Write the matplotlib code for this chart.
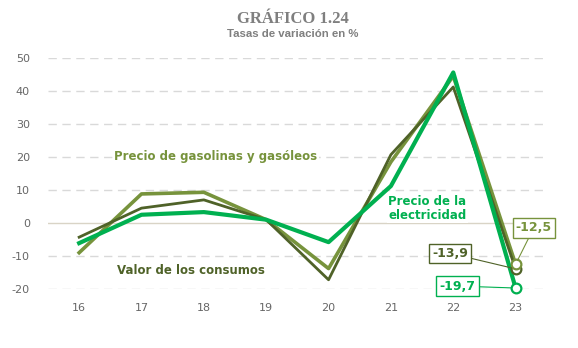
import matplotlib.pyplot as plt
import numpy as np

plt.rcParams["axes.unicode_minus"] = False

years = ["16", "17", "18", "19", "20", "21", "22", "23"]
valor_consumos = [-4.3, 4.5, 7.0, 1.0, -17.2, 20.7, 41.2, -13.9]
precio_gasolinas = [-9.0, 8.8, 9.3, 1.0, -13.8, 18.5, 44.5, -12.5]
precio_electricidad = [-6.1, 2.5, 3.3, 1.0, -5.8, 11.2, 45.6, -19.7]

c_valor = "#4f6228"
c_gas = "#77933c"
c_elec = "#00b050"
grey = "#666666"

fig = plt.figure(figsize=(5.78, 3.48), dpi=100)
ax = fig.add_axes([0.083, 0.1695, 0.863, 0.664])

x = np.arange(len(years))

# grid: solid zero line, dashed others
for v in range(-20, 51, 10):
    if v == 0:
        ax.axhline(v, color="#d9d4c6", lw=1, zorder=0)
    else:
        ax.axhline(v, color="#d9d9d9", lw=1, ls=(0, (6, 4)), zorder=0)

ax.plot(x, precio_gasolinas, color=c_gas, lw=2.6, zorder=3)
ax.plot(x, valor_consumos, color=c_valor, lw=2.0, zorder=4)
ax.plot(x, precio_electricidad, color=c_elec, lw=3.0, zorder=5)

# end markers and value boxes
ends = [
    (valor_consumos, c_valor, (5.95, -9.2)),
    (precio_gasolinas, c_gas, (7.29, -1.5)),
    (precio_electricidad, c_elec, (6.07, -19.1)),
]
for series, col, pos in ends:
    val = series[-1]
    ax.plot(x[-1], val, "o", ms=7, mfc="white", mec=col, mew=1.6, zorder=6,
            clip_on=False)
    ax.annotate(
        f"{val:.1f}".replace(".", ","),
        xy=(x[-1], val), xytext=pos, ha="center", va="center",
        fontsize=9, fontweight="bold", color=col, zorder=7, annotation_clip=False,
        bbox=dict(boxstyle="square,pad=0.25", fc="white", ec=col, lw=1),
        arrowprops=dict(arrowstyle="-", color=col, lw=0.8, shrinkA=0, shrinkB=3),
    )

# series labels
ax.text(2.19, 20, "Precio de gasolinas y gasóleos", color=c_gas, fontsize=8.5,
        fontweight="bold", ha="center", va="center", zorder=2,
        bbox=dict(fc="white", ec="none", pad=1))
ax.text(1.79, -14.5, "Valor de los consumos", color=c_valor, fontsize=8.5,
        fontweight="bold", ha="center", va="center", zorder=2,
        bbox=dict(fc="white", ec="none", pad=1))
ax.text(4.96, 4.5, "Precio de la\nelectricidad", color=c_elec, fontsize=8.5,
        fontweight="bold", ha="left", va="center", linespacing=1.1, zorder=2,
        bbox=dict(fc="white", ec="none", pad=1))

ax.set_xlim(-0.5, 7.5)
ax.set_ylim(-20, 50)
ax.set_xticks(x)
ax.set_xticklabels(years)
ax.set_yticks(range(-20, 51, 10))
ax.tick_params(length=0, labelsize=8, colors=grey)
ax.tick_params(axis="x", pad=10)
ax.tick_params(axis="y", pad=13)
for s in ax.spines.values():
    s.set_visible(False)

fig.text(0.507, 0.945, "GRÁFICO 1.24", ha="center", va="center", fontsize=12,
         fontweight="bold", color="#7f7f7f", family="Liberation Serif")
fig.text(0.507, 0.902, "Tasas de variación en %", ha="center", va="center",
         fontsize=8.2, fontweight="bold", color="#7f7f7f", family="Liberation Sans")

fig.savefig("out.png", dpi=100)
